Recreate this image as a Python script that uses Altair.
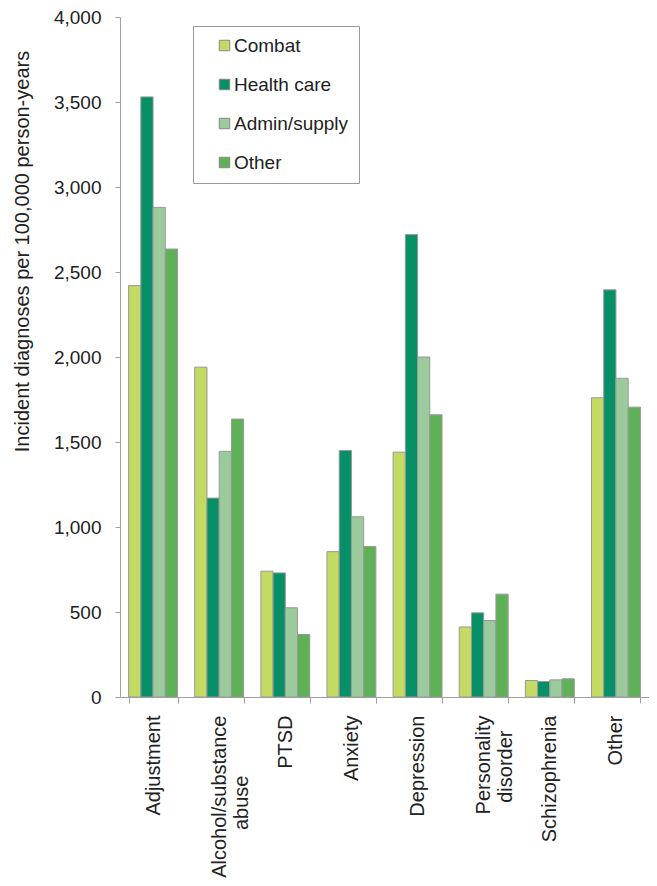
import altair as alt
import pandas as pd

categories = ["Adjustment", "Alcohol/substance abuse", "PTSD", "Anxiety",
              "Depression", "Personality disorder", "Schizophrenia", "Other"]
series = ["Combat", "Health care", "Admin/supply", "Other"]
colors = ["#C3DA63", "#078F68", "#9BCB9D", "#5FB157"]

combat = [2420, 1940, 740, 855, 1440, 412, 97, 1760]
health_care = [3530, 1170, 730, 1450, 2720, 495, 91, 2395]
admin_supply = [2880, 1445, 525, 1060, 2000, 450, 101, 1875]
other = [2635, 1635, 368, 885, 1660, 605, 107, 1705]

values = [combat, health_care, admin_supply, other]
rows = []
for s, vals in zip(series, values):
    for c, v in zip(categories, vals):
        rows.append({"category": c, "group": s, "value": v})
df = pd.DataFrame(rows)

BL = "\u2800"  # blank filler used to centre the shorter second line
FS = "\u2007"
label_expr = (
    "datum.label == 'Alcohol/substance abuse' ? ['Alcohol/substance', 'abuse" + BL * 4 + "'] : "
    "datum.label == 'Personality disorder' ? ['Personality', 'disorder" + BL * 1 + "'] : datum.label"
)
legend_label_expr = "datum.label + '" + FS * 5 + "'"

FONT = "Liberation Sans"

chart = alt.Chart(df).mark_bar(stroke="#999999", strokeWidth=1).encode(
    x=alt.X("category:N", sort=categories, title=None,
            scale=alt.Scale(paddingInner=0.26, paddingOuter=0.13),
            axis=alt.Axis(labelAngle=-90, labelAlign="right", labelBaseline="middle",
                          labelExpr=label_expr, labelFontSize=20, labelLineHeight=22,
                          labelPadding=12, tickBand="extent", tickSize=6,
                          labelColor="#222222", labelLimit=300)),
    xOffset=alt.XOffset("group:N", sort=series, scale=alt.Scale(domain=series, paddingInner=0, paddingOuter=0)),
    y=alt.Y("value:Q", title="Incident diagnoses per 100,000 person-years",
            scale=alt.Scale(domain=[0, 4000], nice=False),
            axis=alt.Axis(values=[0, 500, 1000, 1500, 2000, 2500, 3000, 3500, 4000],
                          format=",d", grid=False, tickSize=5, labelPadding=14,
                          labelFontSize=19, labelColor="#222222",
                          titleFontSize=20, titleFontWeight="normal", titleColor="#222222",
                          titleX=-98, titleY=234, titleAlign="center", titleBaseline="middle",
                          titleAngle=270)),
    color=alt.Color("group:N", sort=series,
                    scale=alt.Scale(domain=series, range=colors),
                    legend=alt.Legend(title=None, orient="none", legendX=73, legendY=9,
                                      symbolType="square", symbolSize=110,
                                      symbolStrokeColor="#888888", symbolStrokeWidth=1,
                                      labelFontSize=19, labelColor="#222222", labelOffset=0,
                                      labelExpr=legend_label_expr,
                                      rowPadding=19, padding=10, symbolOffset=12,
                                      strokeColor="#999999", fillColor="white",
                                      labelLimit=300)),
).properties(
    width=529, height=680,
    padding={"left": 3, "top": 0, "right": 0, "bottom": 0},
).configure(
    font=FONT,
).configure_axis(
    domainColor="#a0a0a0", tickColor="#a0a0a0", labelFont=FONT, titleFont=FONT,
).configure_legend(
    labelFont=FONT,
).configure_view(
    stroke=None,
)

chart.save("out.html", embed_options={"renderer": "svg", "actions": False})
